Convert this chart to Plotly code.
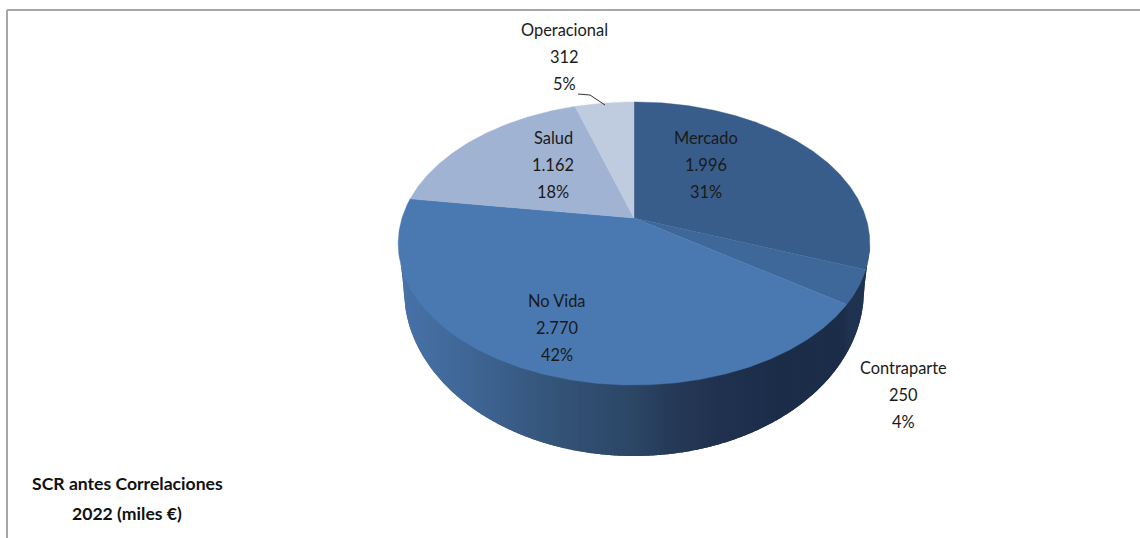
import numpy as np
import plotly.graph_objects as go

# ---- data
categories = ["Mercado", "Contraparte", "No Vida", "Salud", "Operacional"]
values = [1996, 250, 2770, 1162, 312]
value_labels = ["1.996", "250", "2.770", "1.162", "312"]
percent_labels = ["31%", "4%", "42%", "18%", "5%"]
colors = ["#385d8a", "#3d6899", "#4a79b2", "#a0b3d3", "#bfcbdf"]
title_lines = ["SCR antes Correlaciones", "2022 (miles €)"]

# ---- layout / perspective constants (pixels of a 1140x538 page)
W, H = 1140, 538
APEX_X, APEX_Y = 634, 218
A, B, K = 232, 137, 0.18          # projective mapping of the unit disc
BOT_CY, BOT_RX, BOT_RY = 290, 230, 166
EDGE_Y = 243
LABEL_POS = {"Mercado": (706, 137), "Contraparte": (903, 367), "No Vida": (557, 300),
             "Salud": (553, 137), "Operacional": (564, 29)}
LINE_STEP = 27.3
FONT = "Lato, Open Sans, sans-serif"
TEXT = "#1a1a1a"
BORDER = "#a6a6a6"


def project(theta):
    u, v = np.sin(theta), np.cos(theta)
    w = 1 + K * v
    return APEX_X + A * u / w, APEX_Y - B * v / w


fractions = np.cumsum([0] + values) / sum(values)
fig = go.Figure()

# ---- side wall: vertical strips, shaded left to right
th = np.linspace(0, 2 * np.pi, 1441)
ex, ey = project(th)
mask = ey >= EDGE_Y - 1
order = np.argsort(ex[mask])
low_x, low_y = ex[mask][order], ey[mask][order]
xmin, xmax = low_x.min(), low_x.max()


def bottom_edge(x):
    d = np.abs(x - APEX_X)
    if d >= BOT_RX:
        return EDGE_Y + (BOT_CY - EDGE_Y) * (xmax - APEX_X - d) / (xmax - APEX_X - BOT_RX)
    return BOT_CY + BOT_RY * np.sqrt(1 - (d / BOT_RX) ** 2)


stops_x = [398, 450, 500, 557, 634, 673, 720, 780, 846, 847, 870]
stops_c = [(72, 116, 170), (66, 106, 155), (60, 96, 140), (52, 84, 120), (44, 70, 102),
           (38, 58, 88), (32, 50, 79), (27, 45, 72), (27, 45, 72), (31, 51, 80), (31, 51, 80)]
edges = np.arange(xmin, xmax + 3, 3.0)
edges[-1] = xmax
for x0, x1 in zip(edges[:-1], edges[1:]):
    # each strip runs on to the right edge of the wall, the next one paints over it: no seams
    xs = np.r_[np.linspace(x0, x1, 3), np.linspace(x1, min(x1 + 3, xmax), 3)[1:]]
    tops = np.interp(xs, low_x, low_y)
    bots = np.array([bottom_edge(x) for x in xs])
    c = [int(np.interp((x0 + x1) / 2, stops_x, [s[i] for s in stops_c])) for i in range(3)]
    col = f"rgb({c[0]},{c[1]},{c[2]})"
    fig.add_trace(go.Scatter(
        x=np.r_[xs, xs[::-1]], y=np.r_[tops - 1, bots[::-1]], mode="none",
        fill="toself", fillcolor=col, hoverinfo="skip"))

# ---- top face, one polygon per value
for name, f0, f1, col in zip(categories, fractions[:-1], fractions[1:], colors):
    t = np.linspace(f0, f1, max(8, int((f1 - f0) * 720))) * 2 * np.pi
    px, py = project(t)
    fig.add_trace(go.Scatter(
        x=np.r_[APEX_X, px, APEX_X], y=np.r_[APEX_Y, py, APEX_Y], mode="lines",
        fill="toself", fillcolor=col, line=dict(color=col, width=0.4),
        name=name, hoverinfo="name"))

# ---- leader line of the Operacional label
fig.add_trace(go.Scatter(x=[578, 590, 605], y=[94, 95, 105], mode="lines",
                         line=dict(color="#333333", width=1), hoverinfo="skip"))

# ---- labels
annotations = []
for name, val, pct in zip(categories, value_labels, percent_labels):
    lx, ly = LABEL_POS[name]
    for i, line in enumerate([name, val, pct]):
        annotations.append(dict(x=lx, y=ly + i * LINE_STEP, xref="x", yref="y", text=line,
                                showarrow=False, xanchor="center", yanchor="middle",
                                font=dict(family=FONT, size=16.4, color=TEXT)))
for line, ty in zip(title_lines, [483, 513]):
    annotations.append(dict(x=127, y=ty, xref="x", yref="y", text=f"<b>{line}</b>",
                            showarrow=False, xanchor="center", yanchor="middle",
                            font=dict(family=FONT, size=17.6, color="#111111")))

fig.update_layout(
    width=W, height=H, margin=dict(l=0, r=0, t=0, b=0), showlegend=False,
    paper_bgcolor="white", plot_bgcolor="white", annotations=annotations,
    xaxis=dict(range=[0, W], visible=False, fixedrange=True),
    yaxis=dict(range=[H, 0], visible=False, fixedrange=True),
    shapes=[
        dict(type="line", x0=7, x1=W, y0=10, y1=10, line=dict(color=BORDER, width=2)),
        dict(type="line", x0=7, x1=7, y0=10, y1=H, line=dict(color=BORDER, width=2)),
    ],
)

fig.write_html("out.html", config={"displayModeBar": False},
               post_script="document.body.style.margin='0';document.body.style.overflow='hidden';")
